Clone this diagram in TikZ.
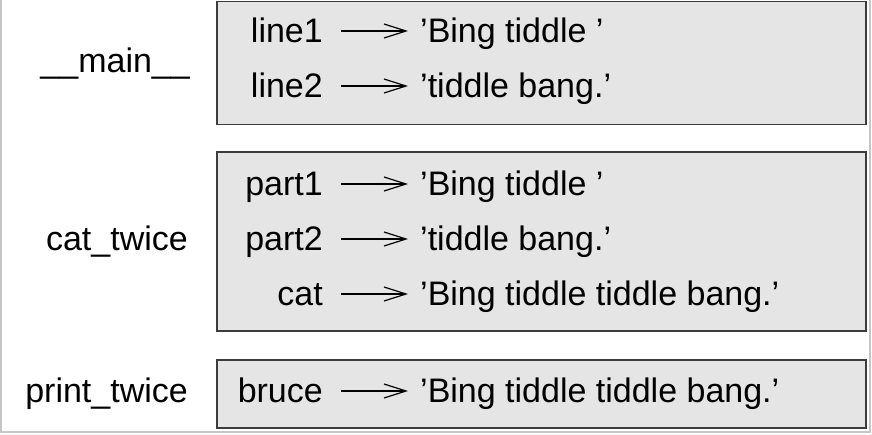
\documentclass[tikz,border=0pt]{standalone}
\usepackage{fontspec}
\setmainfont{Liberation Sans}
\usetikzlibrary{arrows.meta}
\definecolor{framegray}{HTML}{E5E5E5}
\definecolor{edgegray}{HTML}{3C3C3C}

\begin{document}
\begin{tikzpicture}[
    x=1pt, y=-1pt,
    every node/.style={inner sep=0pt, font=\fontsize{34}{40}\selectfont},
    frame/.style={draw=edgegray, line width=1.5pt, fill=framegray},
    funcname/.style={anchor=base east},
    varname/.style={anchor=base east},
    varval/.style={anchor=base west},
    ptr/.style={-{Straight Barb[length=22pt, width=14pt, line width=1.2pt]}, line width=1.2pt, black}
]
\useasboundingbox (0,0) rectangle (872,434);
% screenshot edges
\draw[gray!45, line width=2pt] (1,0) -- (1,432) -- (870,432) -- (870,0);

% frames
\draw[frame] (217,1.5) rectangle (866,124.5);
\draw[frame] (217,152) rectangle (866,331);
\draw[frame] (217,360) rectangle (866,428);

% frame labels
\node[funcname] (main) at (190,72) {\_\_main\_\_};
\node[funcname] (cattwice) at (188,250) {cat\_twice};
\node[funcname] (printtwice) at (188,402) {print\_twice};

% __main__
\node[varname] (line1) at (323,42) {line1};
\node[varval] (line1v) at (420,42) {'Bing tiddle\ '};
\node[varname] (line2) at (323,97) {line2};
\node[varval] (line2v) at (420,97) {'tiddle bang.'};

% cat_twice
\node[varname] (part1) at (323,195) {part1};
\node[varval] (part1v) at (420,195) {'Bing tiddle\ '};
\node[varname] (part2) at (323,250) {part2};
\node[varval] (part2v) at (420,250) {'tiddle bang.'};
\node[varname] (cat) at (323,305) {cat};
\node[varval] (catv) at (420,305) {'Bing tiddle tiddle bang.'};

% print_twice
\node[varname] (bruce) at (323,402) {bruce};
\node[varval] (brucev) at (420,402) {'Bing tiddle tiddle bang.'};

% pointers
\foreach \v in {line1, line2, part1, part2, cat, bruce}
    \draw[ptr] ([xshift=18pt, yshift=11pt]\v.base east) -- ([xshift=-12pt, yshift=11pt]\v v.base west);
\end{tikzpicture}
\end{document}
